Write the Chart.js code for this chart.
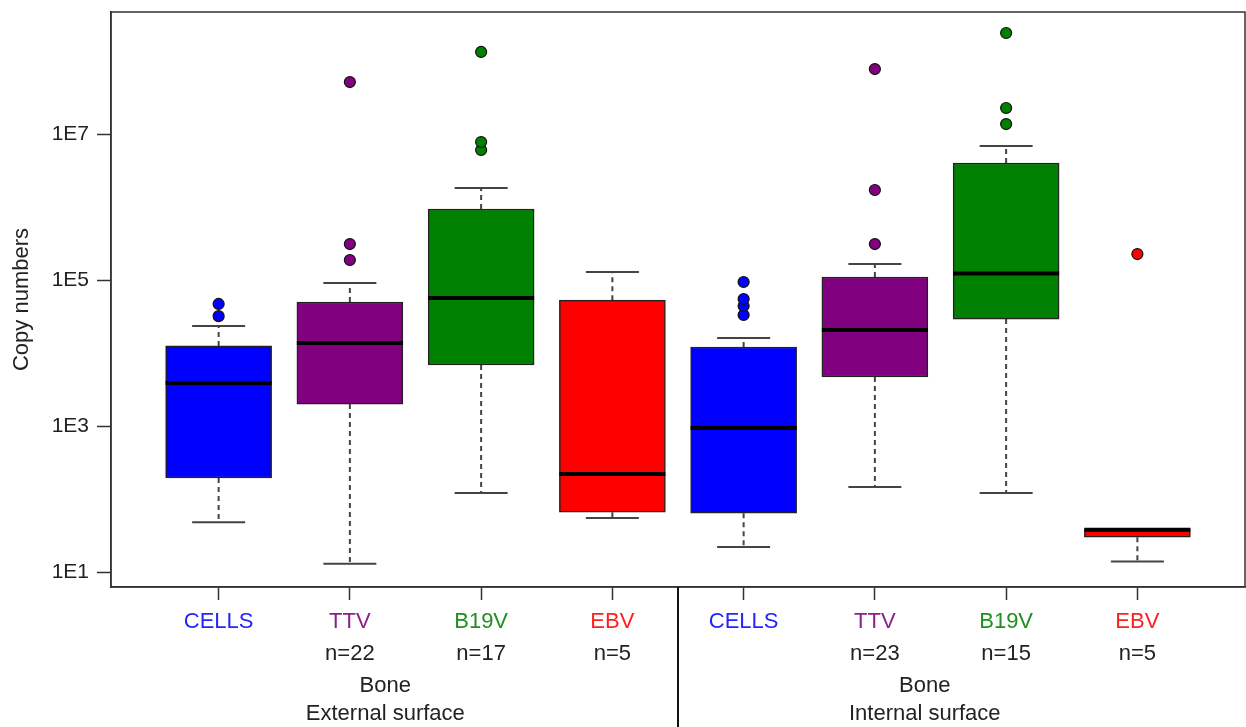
<!DOCTYPE html>
<html>
<head>
<meta charset="utf-8">
<script src="https://cdn.jsdelivr.net/npm/chart.js@4.4.1/dist/chart.umd.min.js"></script>
<style>
html,body{margin:0;padding:0;background:#fff;}
#wrap{width:1246px;height:727px;}
</style>
</head>
<body>
<div id="wrap"><canvas id="boxplot" width="1246" height="727"></canvas></div>
<script>
const categories = ['CELLS', 'TTV', 'B19V', 'EBV', 'CELLS', 'TTV', 'B19V', 'EBV'];
const nLabels = ['', 'n=22', 'n=17', 'n=5', '', 'n=23', 'n=15', 'n=5'];
const groupLabels = [['Bone', 'External surface'], ['Bone', 'Internal surface']];
const groupCenters = [2.27, 6.38];

const lowerWhisker = [48, 13, 121, 55, 22, 146, 121, 14];
const q1 = [194, 2000, 6860, 66, 64, 4690, 29200, 30];
const median = [3880, 13700, 56600, 220, 940, 20700, 123000, 38];
const q3 = [12500, 50000, 940000, 53000, 12100, 110000, 4010000, 39];
const upperWhisker = [23400, 91000, 1820000, 129000, 16000, 166000, 6860000, 39];
const outliers = [
  [32000, 47000],
  [188000, 311000, 51500000],
  [6040000, 7760000, 133000000],
  [],
  [33200, 44000, 55000, 94000],
  [311000, 1710000, 77600000],
  [13700000, 22700000, 242000000],
  [227000]
];
const yTicks = [1e1, 1e3, 1e5, 1e7];

const boxColors = ['#0000ff', '#800080', '#008000', '#ff0000', '#0000ff', '#800080', '#008000', '#ff0000'];
const labelColors = ['#2424ff', '#8c1f8c', '#1f8f1f', '#ff2020', '#2424ff', '#8c1f8c', '#1f8f1f', '#ff2020'];

const FONT = '"Liberation Sans", Arial, Helvetica, sans-serif';

const boxData = categories.map((c, i) => ({x: i + 1, y: [q1[i], q3[i]]}));
const outPoints = [];
const outColors = [];
outliers.forEach((list, i) => {
  list.forEach(v => {
    outPoints.push({x: i + 1, y: v});
    outColors.push(boxColors[i]);
  });
});

const noPad = s => { s.paddingTop = 0; s.paddingBottom = 0; s.paddingLeft = 0; s.paddingRight = 0; };

const boxExtras = {
  id: 'boxExtras',
  beforeDatasetsDraw(chart) {
    const ctx = chart.ctx, y = chart.scales.y;
    const bars = chart.getDatasetMeta(0).data;
    ctx.save();
    ctx.strokeStyle = '#444';
    ctx.lineWidth = 2;
    bars.forEach((bar, i) => {
      const cap = bar.width / 4;
      const yLo = y.getPixelForValue(lowerWhisker[i]);
      const yHi = y.getPixelForValue(upperWhisker[i]);
      const yQ1 = y.getPixelForValue(q1[i]);
      const yQ3 = y.getPixelForValue(q3[i]);
      ctx.setLineDash([5, 4]);
      ctx.beginPath();
      ctx.moveTo(bar.x, yQ1); ctx.lineTo(bar.x, yLo);
      if (yHi < yQ3 - 1) { ctx.moveTo(bar.x, yQ3); ctx.lineTo(bar.x, yHi); }
      ctx.stroke();
      ctx.setLineDash([]);
      ctx.beginPath();
      ctx.moveTo(bar.x - cap, yLo); ctx.lineTo(bar.x + cap, yLo);
      if (yHi < yQ3 - 1) { ctx.moveTo(bar.x - cap, yHi); ctx.lineTo(bar.x + cap, yHi); }
      ctx.stroke();
    });
    ctx.restore();
  },
  afterDatasetsDraw(chart) {
    const ctx = chart.ctx, y = chart.scales.y;
    const bars = chart.getDatasetMeta(0).data;
    ctx.save();
    ctx.strokeStyle = '#000';
    ctx.lineWidth = 4;
    bars.forEach((bar, i) => {
      const ym = y.getPixelForValue(median[i]);
      ctx.beginPath();
      ctx.moveTo(bar.x - bar.width / 2, ym);
      ctx.lineTo(bar.x + bar.width / 2, ym);
      ctx.stroke();
    });
    ctx.restore();
  },
  afterDraw(chart) {
    const ctx = chart.ctx, a = chart.chartArea, x = chart.scales.x;
    ctx.save();
    ctx.strokeStyle = '#333';
    ctx.lineWidth = 1.5;
    ctx.strokeRect(a.left, a.top, a.right - a.left, a.bottom - a.top);
    const xd = x.getPixelForValue(4.5);
    ctx.strokeStyle = '#111';
    ctx.lineWidth = 2;
    ctx.beginPath();
    ctx.moveTo(xd, a.bottom); ctx.lineTo(xd, chart.height);
    ctx.stroke();

    ctx.font = '22px ' + FONT;
    ctx.textAlign = 'center';
    ctx.textBaseline = 'middle';
    categories.forEach((c, i) => {
      const px = x.getPixelForValue(i + 1);
      ctx.fillStyle = labelColors[i];
      ctx.fillText(c, px, a.bottom + 35);
      if (nLabels[i]) {
        ctx.fillStyle = '#222';
        ctx.fillText(nLabels[i], px, a.bottom + 67);
      }
    });
    ctx.fillStyle = '#222';
    groupLabels.forEach((g, k) => {
      const px = x.getPixelForValue(groupCenters[k]);
      ctx.fillText(g[0], px, a.bottom + 99);
      ctx.fillText(g[1], px, a.bottom + 127);
    });
    ctx.restore();
  }
};

new Chart(document.getElementById('boxplot'), {
  type: 'bar',
  data: {
    datasets: [{
      label: 'box',
      data: boxData,
      backgroundColor: boxColors,
      borderColor: '#222',
      borderWidth: 1.5,
      borderSkipped: false,
      barThickness: 106
    }, {
      type: 'scatter',
      label: 'outliers',
      data: outPoints,
      pointBackgroundColor: outColors,
      pointBorderColor: '#111',
      pointBorderWidth: 1.2,
      pointRadius: 5.5
    }]
  },
  options: {
    responsive: false,
    animation: false,
    layout: {autoPadding: false, padding: {top: 12, right: 1, left: 0, bottom: 0}},
    plugins: {legend: {display: false}, tooltip: {enabled: false}},
    scales: {
      x: {
        type: 'linear',
        offset: false,
        min: 0.18,
        max: 8.82,
        afterBuildTicks: s => { s.ticks = categories.map((c, i) => ({value: i + 1})); },
        afterFit: s => { s.height = 140; noPad(s); },
        ticks: {display: false},
        grid: {drawOnChartArea: false, drawTicks: true, tickLength: 13, tickColor: '#333', tickWidth: 1.5, offset: false},
        border: {display: true, color: '#333', width: 1.5}
      },
      y: {
        type: 'logarithmic',
        min: 6.24,
        max: 4.69e8,
        afterBuildTicks: s => { s.ticks = yTicks.map(v => ({value: v})); },
        afterFit: s => { s.width = 111; noPad(s); },
        ticks: {
          padding: 8,
          color: '#222',
          font: {family: FONT, size: 21},
          callback: v => '1E' + Math.round(Math.log10(v))
        },
        grid: {drawOnChartArea: false, drawTicks: true, tickLength: 14, tickColor: '#333', tickWidth: 1.5},
        border: {display: true, color: '#333', width: 1.5},
        title: {display: true, text: 'Copy numbers', color: '#222', font: {family: FONT, size: 22}, padding: {top: 9}}
      }
    }
  },
  plugins: [boxExtras]
});
</script>
</body>
</html>
